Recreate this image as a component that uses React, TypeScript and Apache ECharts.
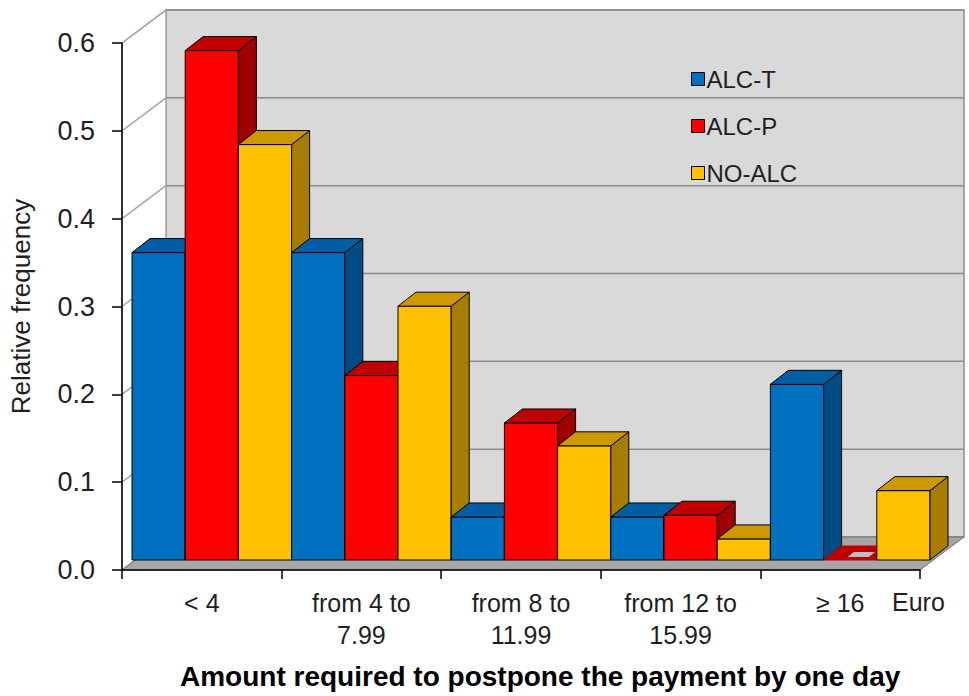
import React, { useEffect, useRef } from "react";
import * as echarts from "echarts";

const categories = ["< 4", "from 4 to\n7.99", "from 8 to\n11.99", "from 12 to\n15.99", "≥ 16"];
const seriesNames = ["ALC-T", "ALC-P", "NO-ALC"];
const alcT = [0.35, 0.35, 0.049, 0.049, 0.2];
const alcP = [0.58, 0.21, 0.156, 0.051, 0];
const noAlc = [0.473, 0.289, 0.13, 0.024, 0.079];
const yTicks = [0, 0.1, 0.2, 0.3, 0.4, 0.5, 0.6];
const allValues = [alcT, alcP, noAlc];

const faces = [
  { front: "#0070C0", top: "#005EA4", side: "#004C84" },
  { front: "#FF0000", top: "#C00000", side: "#A00000" },
  { front: "#FFC000", top: "#CC9A00", side: "#A67D00" },
];

// projection offsets
const OX = 10, OY = -10; // bar front plane
const DX = 18, DY = -14; // bar depth
const WX = 44, WY = -33; // wall depth

const TEXT = "#1F1F1F";
const FONT = "'Liberation Sans', Arial, sans-serif";

function wallsRender(params: any, api: any) {
  const band = api.size([1, 0])[0];
  const L = api.coord([0, 0])[0] - band / 2;
  const R = api.coord([categories.length - 1, 0])[0] + band / 2;
  const yv = (v: number) => api.coord([0, v])[1];
  const yMax = yv(yTicks[yTicks.length - 1]);
  const y0 = yv(0);
  const children: any[] = [];
  children.push({
    type: "polygon",
    shape: { points: [[L + WX, yMax + WY], [R + WX, yMax + WY], [R + WX, y0 + WY], [L + WX, y0 + WY]] },
    style: { fill: "#D9D9D9", stroke: "#8C8C8C", lineWidth: 1.5 },
  });
  children.push({
    type: "polygon",
    shape: { points: [[L, yMax], [L + WX, yMax + WY], [L + WX, y0 + WY], [L, y0]] },
    style: { fill: "#FFFFFF", stroke: "#A6A6A6", lineWidth: 1.5 },
  });
  yTicks.forEach((v) => {
    if (v <= 0) return;
    const y = yv(v);
    children.push({
      type: "line",
      shape: { x1: L + WX, y1: y + WY, x2: R + WX, y2: y + WY },
      style: { stroke: "#8C8C8C", lineWidth: 1.5 },
    });
    children.push({
      type: "line",
      shape: { x1: L, y1: y, x2: L + WX, y2: y + WY },
      style: { stroke: "#A6A6A6", lineWidth: 1.5 },
    });
  });
  children.push({
    type: "polygon",
    shape: { points: [[L, y0], [R, y0], [R + WX, y0 + WY], [L + WX, y0 + WY]] },
    style: { fill: "#A6A6A6", stroke: "#6E6E6E", lineWidth: 1 },
  });
  return { type: "group", children };
}

function makeBarRender(sIdx: number) {
  return (params: any, api: any) => {
    const cat = api.value(0);
    const val = api.value(1);
    const band = api.size([1, 0])[0];
    const bw = band / 3;
    const c = api.coord([cat, val]);
    const b = api.coord([cat, 0]);
    const x0 = c[0] - band / 2 + sIdx * bw + OX;
    const x1 = x0 + bw;
    const yt = c[1] + OY;
    const yb = b[1] + OY;
    const base = (cat * 3 + sIdx) * 10;
    const f = faces[sIdx];
    const stroke = { stroke: "#000000", lineWidth: 1, lineJoin: "round" };
    const children: any[] = [];
    if (yb - yt > 0.5) {
      children.push({
        type: "polygon",
        z2: base + 1,
        shape: { points: [[x0, yt], [x1, yt], [x1, yb], [x0, yb]] },
        style: { fill: f.front, ...stroke },
      });
      children.push({
        type: "polygon",
        z2: base + 2,
        shape: { points: [[x1, yt], [x1 + DX, yt + DY], [x1 + DX, yb + DY], [x1, yb]] },
        style: { fill: f.side, ...stroke },
      });
      children.push({
        type: "polygon",
        z2: base + 3,
        shape: { points: [[x0, yt], [x0 + DX, yt + DY], [x1 + DX, yt + DY], [x1, yt]] },
        style: { fill: f.top, ...stroke },
      });
    } else {
      children.push({
        type: "polygon",
        z2: base + 3,
        shape: { points: [[x0, yt], [x0 + DX, yt + DY], [x1 + DX, yt + DY], [x1, yt]] },
        style: { fill: f.top, stroke: "#C00000", lineWidth: 1 },
      });
      const ix0 = x0 + bw * 0.45, ix1 = x0 + bw * 0.85;
      const iy = yt - 3, idx = DX * 0.35, idy = DY * 0.35;
      children.push({
        type: "polygon",
        z2: base + 4,
        shape: { points: [[ix0, iy], [ix0 + idx, iy + idy], [ix1 + idx, iy + idy], [ix1, iy]] },
        style: { fill: "#BFBFBF" },
      });
    }
    return { type: "group", children };
  };
}

export default function App() {
  const ref = useRef<HTMLDivElement>(null);
  useEffect(() => {
    if (!ref.current) return;
    const chart = echarts.init(ref.current, undefined, { renderer: "svg" });
    const barSeries = seriesNames.map((name, s) => ({
      type: "custom",
      name,
      z: 2,
      itemStyle: { color: faces[s].front },
      renderItem: makeBarRender(s),
      encode: { x: 0, y: 1 },
      data: allValues[s].map((v, i) => [i, v]),
    }));
    chart.setOption({
      animation: false,
      backgroundColor: "#FFFFFF",
      grid: { left: 115, right: 49, top: 43, bottom: 126 },
      legend: {
        data: seriesNames,
        orient: "vertical",
        left: 686,
        top: 62,
        icon: "rect",
        itemWidth: 13,
        itemHeight: 13,
        itemGap: 23,
        itemStyle: { borderColor: "#000000", borderWidth: 1 },
        textStyle: { fontFamily: FONT, fontSize: 24, color: TEXT, padding: [0, 0, 0, -3], lineHeight: 22 },
      },
      xAxis: {
        type: "category",
        data: categories,
        z: 10,
        boundaryGap: true,
        axisLine: { show: true, lineStyle: { color: "#000000", width: 1.5 } },
        axisTick: { show: true, interval: 0, length: 9, lineStyle: { color: "#000000", width: 1.5 } },
        axisLabel: { interval: 0, margin: 17, fontFamily: FONT, fontSize: 25, lineHeight: 32, color: TEXT },
        splitLine: { show: false },
      },
      yAxis: {
        type: "value",
        min: 0,
        max: 0.6,
        interval: 0.1,
        z: 10,
        name: "Relative frequency",
        nameLocation: "middle",
        nameGap: 88,
        nameTextStyle: { fontFamily: FONT, fontSize: 26, color: TEXT },
        axisLine: { show: true, lineStyle: { color: "#000000", width: 1.5 } },
        axisTick: { show: true, length: 10, lineStyle: { color: "#000000", width: 1.5 } },
        axisLabel: { margin: 27, fontFamily: FONT, fontSize: 27, color: TEXT, formatter: (v: number) => v.toFixed(1) },
        splitLine: { show: false },
      },
      graphic: [
        {
          type: "text",
          left: 180,
          top: 662,
          style: {
            text: "Amount required to postpone the payment by one day",
            font: `bold 28px ${FONT}`,
            fill: "#000000",
          },
        },
        {
          type: "text",
          left: 892,
          top: 589,
          style: { text: "Euro", font: `25px ${FONT}`, fill: TEXT },
        },
      ],
      series: [
        {
          type: "custom",
          name: "walls",
          z: 1,
          silent: true,
          renderItem: wallsRender,
          encode: { x: 0, y: 1 },
          data: [[0, 0]],
        },
        ...barSeries,
      ],
    });
    return () => chart.dispose();
  }, []);
  return <div ref={ref} style={{ position: "fixed", left: 0, top: 0, width: 969, height: 696 }} />;
}
